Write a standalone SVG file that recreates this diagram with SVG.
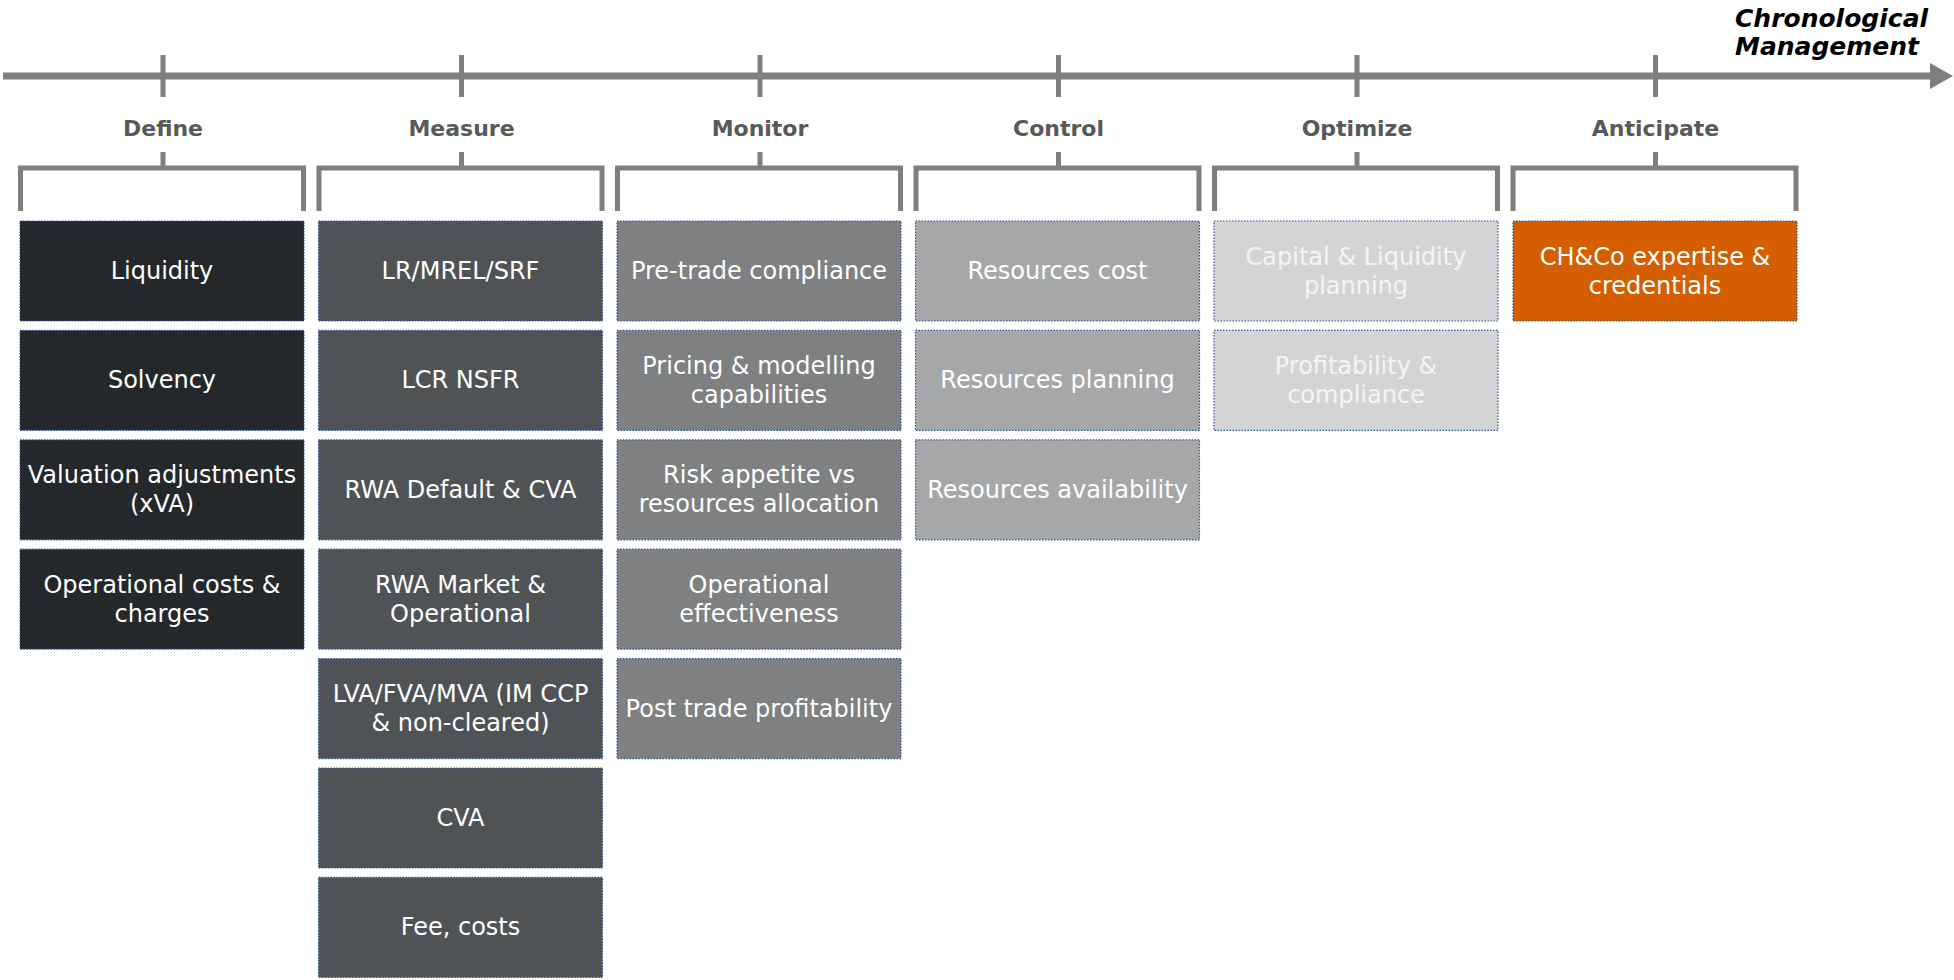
<svg xmlns="http://www.w3.org/2000/svg" width="1954" height="980" viewBox="0 0 1954 980">
<style>
.ax{stroke:#7f7f7f;fill:none}
.tick{stroke:#7f7f7f;stroke-width:5}
.br{stroke:#7f7f7f;stroke-width:5;fill:none;stroke-linejoin:miter}
.lbl{font-family:"DejaVu Sans",sans-serif;font-weight:bold;font-size:22px;fill:#595959;text-anchor:middle}
.bx{stroke:#2f5597;stroke-width:1.2;stroke-dasharray:1.5 1.5}
.t{font-family:"DejaVu Sans",sans-serif;font-size:24px;fill:#ffffff;text-anchor:middle}
.c1{fill:#25282b}.c2{fill:#505355}.c3{fill:#7f8081}.c4{fill:#a6a7a8}.c5{fill:#d4d4d4}.c6{fill:#d55f00}
.tl{fill:#f4f4f4}
.title{font-family:"DejaVu Sans",sans-serif;font-weight:bold;font-style:italic;font-size:25px;fill:#000000}
</style>
<g id="axis">
<line class="ax" x1="3" y1="76" x2="1932" y2="76" stroke-width="7"/>
<polygon points="1930,63 1953,76 1930,89" fill="#7f7f7f"/>
<text class="title" x="1735" y="27">Chronological</text>
<text class="title" x="1735" y="55">Management</text>
</g>
<g id="connectors">
<line class="tick" x1="163" y1="55" x2="163" y2="97"/>
<line class="tick" x1="461.5" y1="55" x2="461.5" y2="97"/>
<line class="tick" x1="760" y1="55" x2="760" y2="97"/>
<line class="tick" x1="1058.5" y1="55" x2="1058.5" y2="97"/>
<line class="tick" x1="1357" y1="55" x2="1357" y2="97"/>
<line class="tick" x1="1655.5" y1="55" x2="1655.5" y2="97"/>
<path class="br" d="M20.5,211 V168 H303.5 V211 M163,152 V168"/>
<path class="br" d="M319,211 V168 H602 V211 M461.5,152 V168"/>
<path class="br" d="M617.5,211 V168 H900.5 V211 M760,152 V168"/>
<path class="br" d="M916,211 V168 H1199 V211 M1058.5,152 V168"/>
<path class="br" d="M1214.5,211 V168 H1497.5 V211 M1357,152 V168"/>
<path class="br" d="M1513,211 V168 H1796 V211 M1655.5,152 V168"/>
</g>
<g id="labels">
<text class="lbl" x="163" y="136">Define</text>
<text class="lbl" x="461.5" y="136">Measure</text>
<text class="lbl" x="760" y="136">Monitor</text>
<text class="lbl" x="1058.5" y="136">Control</text>
<text class="lbl" x="1357" y="136">Optimize</text>
<text class="lbl" x="1655.5" y="136">Anticipate</text>
</g>
<!-- Define -->
<g id="define-1"><rect class="bx c1" x="20" y="221" width="284" height="100"/><text class="t" x="162" y="279">Liquidity</text></g>
<g id="define-2"><rect class="bx c1" x="20" y="330.4" width="284" height="100"/><text class="t" x="162" y="388.4">Solvency</text></g>
<g id="define-3"><rect class="bx c1" x="20" y="439.8" width="284" height="100"/><text class="t" x="162" y="483.3">Valuation adjustments</text><text class="t" x="162" y="512.3">(xVA)</text></g>
<g id="define-4"><rect class="bx c1" x="20" y="549.2" width="284" height="100"/><text class="t" x="162" y="592.7">Operational costs &amp;</text><text class="t" x="162" y="621.7">charges</text></g>
<!-- Measure -->
<g id="measure-1"><rect class="bx c2" x="318.5" y="221" width="284" height="100"/><text class="t" x="460.5" y="279">LR/MREL/SRF</text></g>
<g id="measure-2"><rect class="bx c2" x="318.5" y="330.4" width="284" height="100"/><text class="t" x="460.5" y="388.4">LCR NSFR</text></g>
<g id="measure-3"><rect class="bx c2" x="318.5" y="439.8" width="284" height="100"/><text class="t" x="460.5" y="497.8">RWA Default &amp; CVA</text></g>
<g id="measure-4"><rect class="bx c2" x="318.5" y="549.2" width="284" height="100"/><text class="t" x="460.5" y="592.7">RWA Market &amp;</text><text class="t" x="460.5" y="621.7">Operational</text></g>
<g id="measure-5"><rect class="bx c2" x="318.5" y="658.6" width="284" height="100"/><text class="t" x="460.5" y="702.1">LVA/FVA/MVA (IM CCP</text><text class="t" x="460.5" y="731.1">&amp; non-cleared)</text></g>
<g id="measure-6"><rect class="bx c2" x="318.5" y="768" width="284" height="100"/><text class="t" x="460.5" y="826">CVA</text></g>
<g id="measure-7"><rect class="bx c2" x="318.5" y="877.4" width="284" height="100"/><text class="t" x="460.5" y="935.4">Fee, costs</text></g>
<!-- Monitor -->
<g id="monitor-1"><rect class="bx c3" x="617" y="221" width="284" height="100"/><text class="t" x="759" y="279">Pre-trade compliance</text></g>
<g id="monitor-2"><rect class="bx c3" x="617" y="330.4" width="284" height="100"/><text class="t" x="759" y="373.9">Pricing &amp; modelling</text><text class="t" x="759" y="402.9">capabilities</text></g>
<g id="monitor-3"><rect class="bx c3" x="617" y="439.8" width="284" height="100"/><text class="t" x="759" y="483.3">Risk appetite vs</text><text class="t" x="759" y="512.3">resources allocation</text></g>
<g id="monitor-4"><rect class="bx c3" x="617" y="549.2" width="284" height="100"/><text class="t" x="759" y="592.7">Operational</text><text class="t" x="759" y="621.7">effectiveness</text></g>
<g id="monitor-5"><rect class="bx c3" x="617" y="658.6" width="284" height="100"/><text class="t" x="759" y="716.6">Post trade profitability</text></g>
<!-- Control -->
<g id="control-1"><rect class="bx c4" x="915.5" y="221" width="284" height="100"/><text class="t" x="1057.5" y="279">Resources cost</text></g>
<g id="control-2"><rect class="bx c4" x="915.5" y="330.4" width="284" height="100"/><text class="t" x="1057.5" y="388.4">Resources planning</text></g>
<g id="control-3"><rect class="bx c4" x="915.5" y="439.8" width="284" height="100"/><text class="t" x="1057.5" y="497.8">Resources availability</text></g>
<!-- Optimize -->
<g id="optimize-1"><rect class="bx c5" x="1214" y="221" width="284" height="100"/><text class="t tl" x="1356" y="264.5">Capital &amp; Liquidity</text><text class="t tl" x="1356" y="293.5">planning</text></g>
<g id="optimize-2"><rect class="bx c5" x="1214" y="330.4" width="284" height="100"/><text class="t tl" x="1356" y="373.9">Profitability &amp;</text><text class="t tl" x="1356" y="402.9">compliance</text></g>
<!-- Anticipate -->
<g id="anticipate-1"><rect class="bx c6" x="1513" y="221" width="284" height="100"/><text class="t" x="1655" y="264.5">CH&amp;Co expertise &amp;</text><text class="t" x="1655" y="293.5">credentials</text></g>
</svg>
